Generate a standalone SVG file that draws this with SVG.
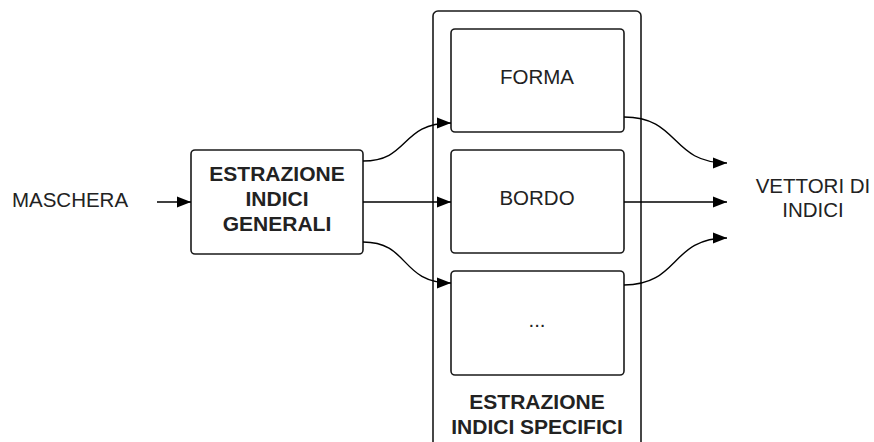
<svg xmlns="http://www.w3.org/2000/svg" width="874" height="442" viewBox="0 0 874 442">
<style>
.box{fill:#fff;stroke:#1a1a1a;stroke-width:1.6}
.t{font-family:"Liberation Sans",Arial,sans-serif;font-size:20.5px;fill:#222;text-anchor:middle}
.b{font-weight:bold;font-size:21px}
.c{fill:none;stroke:#000;stroke-width:1.4}
</style>
<defs>
<marker id="ah" viewBox="0 0 10 10" refX="10" refY="5" markerWidth="14" markerHeight="14" markerUnits="userSpaceOnUse" orient="auto">
<path d="M0,1 L10,5 L0,9 Z" fill="#000"/>
</marker>
</defs>
<g id="container">
<rect class="box" x="433" y="11" width="208" height="440" rx="5"/>
<text class="t b" x="537" y="409">ESTRAZIONE</text>
<text class="t b" x="537" y="434">INDICI SPECIFICI</text>
</g>
<g id="forma">
<rect class="box" x="451" y="29" width="173" height="103" rx="4"/>
<text class="t" x="537" y="84">FORMA</text>
</g>
<g id="bordo">
<rect class="box" x="451" y="150" width="173" height="103" rx="4"/>
<text class="t" x="537" y="205">BORDO</text>
</g>
<g id="altro">
<rect class="box" x="451" y="271" width="173" height="104" rx="4"/>
<text class="t" x="537" y="327">...</text>
</g>
<g id="generali">
<rect class="box" x="191" y="150" width="172" height="104" rx="4"/>
<text class="t b" x="277" y="181">ESTRAZIONE</text>
<text class="t b" x="277" y="206">INDICI</text>
<text class="t b" x="277" y="231">GENERALI</text>
</g>
<g id="maschera">
<text class="t" x="70" y="207">MASCHERA</text>
</g>
<g id="vettori">
<text class="t" x="813" y="193">VETTORI DI</text>
<text class="t" x="813" y="217">INDICI</text>
</g>
<g id="connectors">
<path class="c" d="M157,202 L191,202" marker-end="url(#ah)"/>
<path class="c" d="M363,161 C410,161 400,123 451,123" marker-end="url(#ah)"/>
<path class="c" d="M363,202 L451,202" marker-end="url(#ah)"/>
<path class="c" d="M363,242 C410,242 400,283 451,283" marker-end="url(#ah)"/>
<path class="c" d="M624,117 C680,117 670,163 727,163" marker-end="url(#ah)"/>
<path class="c" d="M624,202 L727,202" marker-end="url(#ah)"/>
<path class="c" d="M624,285 C680,285 670,238 727,238" marker-end="url(#ah)"/>
</g>
</svg>
